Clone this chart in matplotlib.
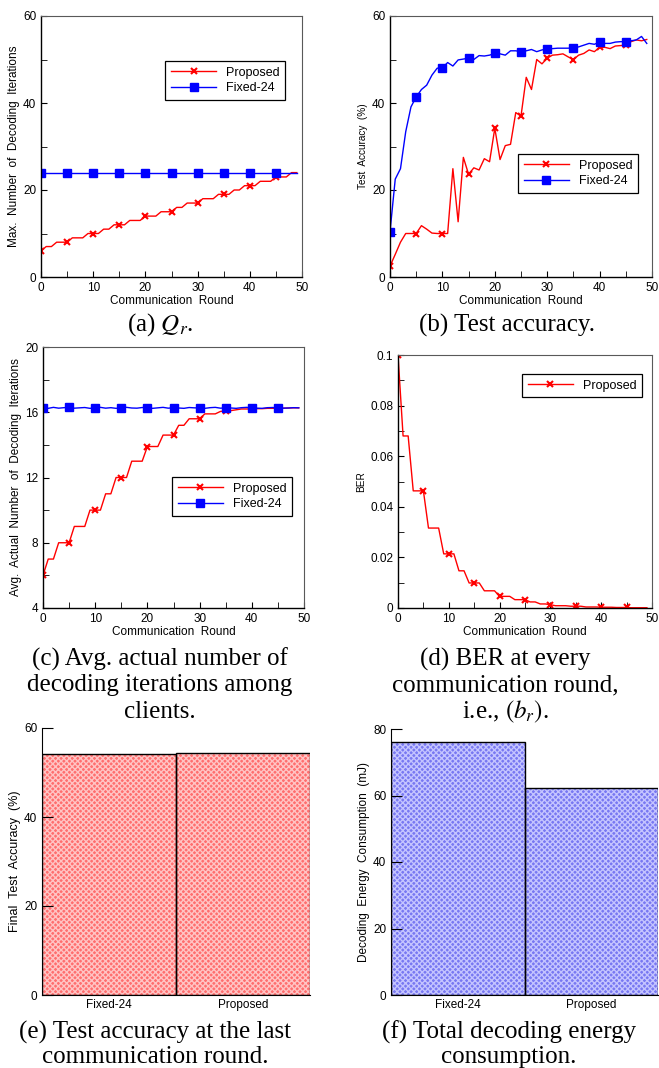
import numpy as np
import matplotlib
matplotlib.use("Agg")
import matplotlib.pyplot as plt
from matplotlib.ticker import MultipleLocator

plt.rcParams['font.family'] = ['Liberation Sans', 'DejaVu Sans']
plt.rcParams['mathtext.fontset'] = 'stix'

# data
rounds = np.arange(50)

# (a) max number of decoding iterations
q_prop = [6, 7, 7, 8, 8, 8, 9, 9, 9, 10, 10, 10, 11, 11, 12, 12, 12, 13, 13, 13,
          14, 14, 14, 15, 15, 15, 16, 16, 17, 17, 17, 18, 18, 18, 19, 19, 19, 20, 20, 21,
          21, 21, 22, 22, 22, 23, 23, 23, 24, 24]
q_fixed = [24] * 50

# (b) test accuracy (%)
acc_prop = [2.5, 5.2, 8.0, 10.0, 10.0, 10.0, 11.8, 11.0, 10.1, 10.0, 10.0, 10.0, 24.9, 12.7, 27.5, 23.6,
            25.1, 24.6, 27.2, 26.5, 34.2, 27.0, 30.2, 30.5, 37.8, 37.0, 45.9, 43.1, 50.0, 49.0,
            50.3, 51.0, 51.1, 51.3, 50.6, 50.0, 51.0, 51.4, 52.2, 51.8, 52.8, 52.8, 52.5, 53.1,
            53.2, 53.3, 54.1, 54.5, 54.3, 54.6]
acc_fixed = [10.4, 22.5, 24.9, 33.4, 39.1, 41.4, 43.1, 44.1, 46.4, 48.0, 48.1, 49.3, 48.5, 49.9,
             50.1, 50.3, 50.0, 50.9, 50.8, 51.0, 51.4, 51.3, 51.0, 52.0, 52.0, 51.8, 52.0, 52.3,
             51.8, 52.2, 52.4, 52.5, 52.6, 52.6, 52.6, 52.7, 52.9, 53.3, 53.7, 53.5, 54.0, 53.7,
             53.7, 54.0, 54.1, 54.1, 54.3, 54.5, 55.3, 53.7]

# (c) avg actual number of decoding iterations
avg_prop = [6.0, 7.0, 7.0, 8.0, 8.0, 8.0, 9.0, 9.0, 9.0, 10.0, 10.0, 10.0, 11.0, 11.0, 12.0, 12.0,
            12.0, 13.0, 13.0, 13.0, 13.9, 13.9, 13.9, 14.6, 14.6, 14.6, 15.2, 15.2, 15.6, 15.6,
            15.6, 15.9, 15.9, 15.9, 16.05, 16.08, 16.1, 16.15, 16.2, 16.2, 16.2, 16.22, 16.22,
            16.24, 16.24, 16.25, 16.25, 16.26, 16.27, 16.27]
avg_fixed = [16.28, 16.24, 16.3, 16.25, 16.28, 16.3, 16.25, 16.27, 16.29, 16.24, 16.27, 16.3,
             16.25, 16.28, 16.24, 16.28, 16.3, 16.26, 16.25, 16.29, 16.28, 16.24, 16.27, 16.3,
             16.25, 16.28, 16.26, 16.24, 16.29, 16.27, 16.26, 16.24, 16.28, 16.3, 16.25, 16.27,
             16.26, 16.24, 16.28, 16.3, 16.27, 16.25, 16.24, 16.28, 16.29, 16.27, 16.25, 16.26,
             16.28, 16.27]

# (d) BER
ber_prop = [0.1, 0.068, 0.068, 0.0463, 0.0463, 0.0463, 0.0316, 0.0316, 0.0316, 0.0214, 0.0214,
            0.0214, 0.0147, 0.0147, 0.0099, 0.0099, 0.0099, 0.0068, 0.0068, 0.0068, 0.0046,
            0.0046, 0.0046, 0.0033, 0.0033, 0.0033, 0.0024, 0.0024, 0.0016, 0.0016, 0.0013,
            0.0009, 0.0009, 0.0009, 0.0007, 0.0007, 0.0007, 0.0004, 0.0004, 0.0004, 0.0003,
            0.0003, 0.0003, 0.0002, 0.0002, 0.0002, 0.0001, 0.0001, 0.0001, 0.0001]

# (e), (f) bars
bar_labels = ['Fixed-24', 'Proposed']
final_acc = [54.2, 54.4]
energy = [76.1, 62.4]

W, H = 659, 1068
fig = plt.figure(figsize=(W / 100, H / 100), dpi=100)


def rect(l, t, r, b):
    return [l / W, 1 - b / H, (r - l) / W, (b - t) / H]


def style_line_axes(ax):
    for s in ['top', 'right']:
        ax.spines[s].set_color('0.35')
        ax.spines[s].set_linewidth(0.8)
    for s in ['left', 'bottom']:
        ax.spines[s].set_linewidth(1.0)
    ax.tick_params(direction='in', which='both', labelsize=8.5, top=False, right=False)
    ax.tick_params(which='major', length=4)
    ax.tick_params(which='minor', length=4)
    ax.set_xlim(0, 50)
    ax.xaxis.set_major_locator(MultipleLocator(10))
    ax.xaxis.set_minor_locator(MultipleLocator(5))
    ax.set_xlabel('Communication  Round', fontsize=8.5, labelpad=1)


def add_legend(ax, x0, y1):
    leg = ax.legend(loc='upper left', bbox_to_anchor=(x0, y1), borderaxespad=0, fancybox=False,
                    edgecolor='black', framealpha=1, fontsize=9, handlelength=3.6,
                    borderpad=0.45, labelspacing=0.3)
    leg.get_frame().set_linewidth(0.9)


red = '#ff0000'
blue = '#0000ff'

# (a)
ax = fig.add_axes(rect(41, 16, 302, 277))
ax.plot(rounds, q_prop, color=red, lw=1, marker='x', ms=5, mew=1.5, markevery=5, label='Proposed')
ax.plot(rounds, q_fixed, color=blue, lw=1, marker='s', ms=5.5, markevery=5, label='Fixed-24')
style_line_axes(ax)
ax.set_ylim(0, 60)
ax.yaxis.set_major_locator(MultipleLocator(20))
ax.yaxis.set_minor_locator(MultipleLocator(10))
ax.set_ylabel('Max.  Number  of  Decoding  Iterations', fontsize=8.5, labelpad=2)
add_legend(ax, 0.477, 0.828)

# (b)
ax = fig.add_axes(rect(390, 16, 652, 277))
ax.plot(rounds, acc_prop, color=red, lw=1, marker='x', ms=5, mew=1.5, markevery=5, label='Proposed')
ax.plot(rounds, acc_fixed, color=blue, lw=1, marker='s', ms=5.5, markevery=5, label='Fixed-24')
style_line_axes(ax)
ax.set_ylim(0, 60)
ax.yaxis.set_major_locator(MultipleLocator(20))
ax.yaxis.set_minor_locator(MultipleLocator(10))
ax.set_ylabel('Test  Accuracy  (%)', fontsize=7.2, labelpad=3)
add_legend(ax, 0.489, 0.471)

# (c)
ax = fig.add_axes(rect(43, 347, 304, 608))
ax.plot(rounds, avg_prop, color=red, lw=1, marker='x', ms=5, mew=1.5, markevery=5, label='Proposed')
ax.plot(rounds, avg_fixed, color=blue, lw=1, marker='s', ms=5.5, markevery=5, label='Fixed-24')
style_line_axes(ax)
ax.set_ylim(4, 20)
ax.yaxis.set_major_locator(MultipleLocator(4))
ax.yaxis.set_minor_locator(MultipleLocator(2))
ax.set_ylabel('Avg.  Actual  Number  of  Decoding  Iterations', fontsize=8.5, labelpad=2)
add_legend(ax, 0.494, 0.502)

# (d)
ax = fig.add_axes(rect(398, 355, 652, 608))
ax.plot(rounds, ber_prop, color=red, lw=1, marker='x', ms=5, mew=1.5, markevery=5, label='Proposed')
style_line_axes(ax)
ax.set_ylim(0, 0.1)
ax.set_yticks([0, 0.02, 0.04, 0.06, 0.08, 0.1])
ax.set_yticklabels(['0', '0.02', '0.04', '0.06', '0.08', '0.1'])
ax.yaxis.set_minor_locator(MultipleLocator(0.01))
ax.set_ylabel('BER', fontsize=7.2, labelpad=3)
add_legend(ax, 0.488, 0.925)


def bar_panel(ax, vals, face, hatchcol, ymax, ylabel, lsize):
    x = np.arange(len(vals))
    plt.rcParams['hatch.linewidth'] = 1.0
    ax.bar(x, vals, width=1.0, color=face, edgecolor=hatchcol, hatch='xxxxxx', lw=0)
    ax.bar(x, vals, width=1.0, fill=False, edgecolor='black', lw=1)
    ax.set_xlim(-0.5, 1.5)
    ax.set_ylim(0, ymax)
    ax.set_xticks(x)
    ax.set_xticklabels(bar_labels)
    ax.spines['top'].set_visible(False)
    ax.spines['right'].set_visible(False)
    ax.tick_params(axis='y', direction='in', length=8, labelsize=8.5)
    ax.tick_params(axis='x', length=0, labelsize=8.5, pad=3)
    ax.yaxis.set_major_locator(MultipleLocator(20))
    ax.set_ylabel(ylabel, fontsize=lsize, labelpad=2)


# (e)
ax = fig.add_axes(rect(42, 728, 310, 995))
bar_panel(ax, final_acc, '#ff6e6e', '#ffc4c4', 60, 'Final  Test  Accuracy  (%)', 9)

# (f)
ax = fig.add_axes(rect(391, 729, 658, 995))
bar_panel(ax, energy, '#7878f2', '#c4c4ff', 80, 'Decoding  Energy  Consumption  (mJ)', 8.5)

# captions
cap = dict(fontsize=18, family='Liberation Serif', ha='center', va='center')
fig.text(160 / W, 1 - 325 / H, r'(a) $Q_r$.', **cap)
fig.text(507 / W, 1 - 325 / H, '(b) Test accuracy.', **cap)
for i, line in enumerate(['(c) Avg. actual number of', 'decoding iterations among', 'clients.']):
    fig.text(160 / W, 1 - (659 + 26.5 * i) / H, line, **cap)
for i, line in enumerate(['(d) BER at every', 'communication round,', r'i.e., $(b_r)$.']):
    fig.text(505 / W, 1 - (659 + 26.5 * i) / H, line, **cap)
for i, line in enumerate(['(e) Test accuracy at the last', 'communication round.']):
    fig.text(155 / W, 1 - (1032 + 25 * i) / H, line, **cap)
for i, line in enumerate(['(f) Total decoding energy', 'consumption.']):
    fig.text(509 / W, 1 - (1032 + 25 * i) / H, line, **cap)

fig.savefig('out.png', dpi=100)
